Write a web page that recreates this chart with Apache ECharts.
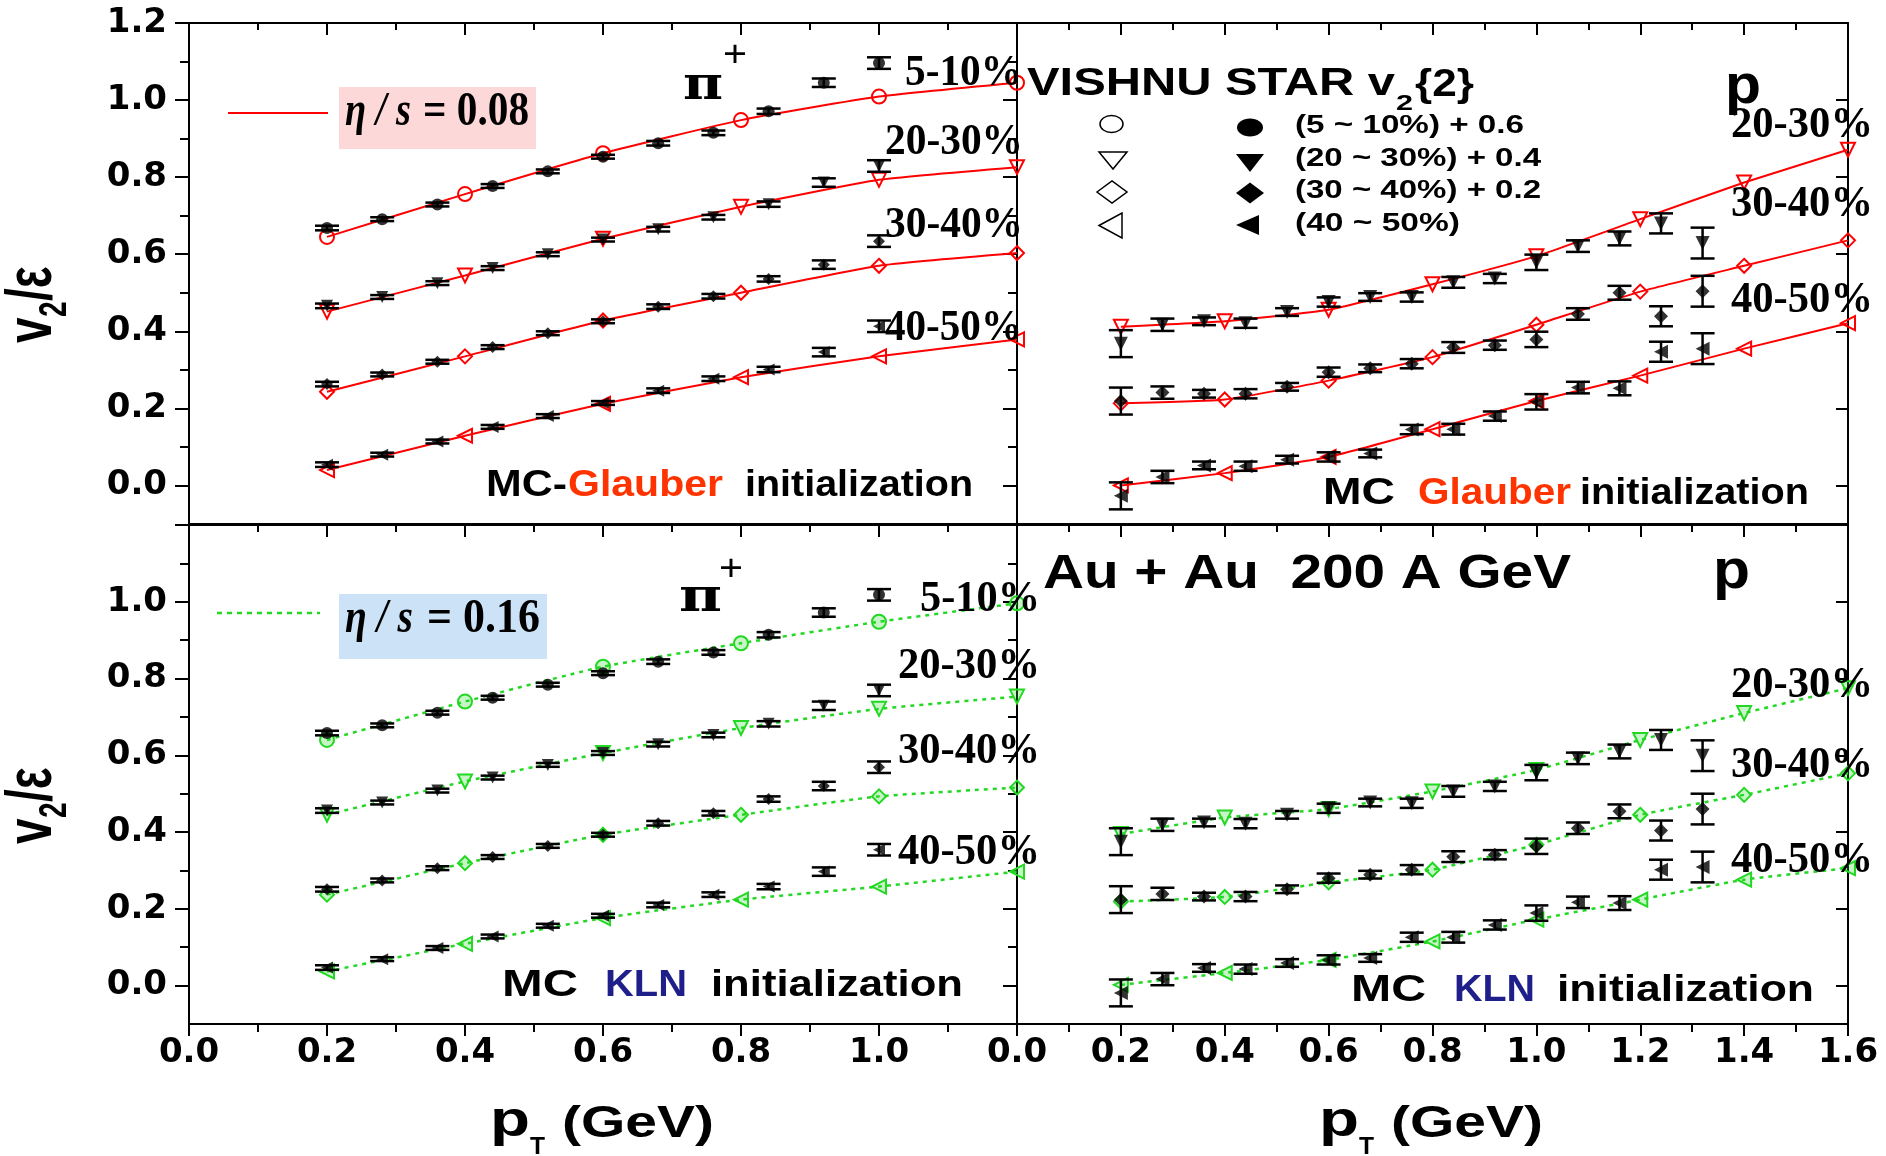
<!DOCTYPE html>
<html><head><meta charset="utf-8">
<script src="https://cdn.jsdelivr.net/npm/echarts@6/dist/echarts.min.js"></script>
<style>html,body{margin:0;padding:0;background:#fff}#c{width:1886px;height:1156px}</style>
</head><body><div id="c"></div><script>
// ---------------- DATA ----------------
const centralities = ['5-10%', '20-30%', '30-40%', '40-50%'];
const pionPt   = [0.2, 0.28, 0.36, 0.44, 0.52, 0.6, 0.68, 0.76, 0.84, 0.92, 1.0];
const protonPt = [0.2, 0.28, 0.36, 0.44, 0.52, 0.6, 0.68, 0.76, 0.84, 0.92, 1.0, 1.08, 1.16, 1.24, 1.32];
const hydroPtPion   = [0.2, 0.4, 0.6, 0.8, 1.0, 1.2];
const hydroPtProton = [0.2, 0.4, 0.6, 0.8, 1.0, 1.2, 1.4, 1.6];
const pionErr   = [0.006, 0.005, 0.005, 0.005, 0.005, 0.005, 0.006, 0.006, 0.007, 0.011, 0.015];
const protonErr = [0.035, 0.016, 0.010, 0.012, 0.010, 0.012, 0.010, 0.012, 0.014, 0.012, 0.020, 0.015, 0.018, 0.026, 0.040];

// MC-Glauber, pi+ (STAR data, offsets included)
const glbPion5_10  = [0.668, 0.691, 0.729, 0.777, 0.815, 0.853, 0.888, 0.915, 0.971, 1.045, 1.096];
const glbPion20_30 = [0.466, 0.489, 0.525, 0.564, 0.600, 0.638, 0.665, 0.696, 0.730, 0.786, 0.829];
const glbPion30_40 = [0.263, 0.288, 0.321, 0.359, 0.395, 0.426, 0.464, 0.491, 0.536, 0.573, 0.634];
const glbPion40_50 = [0.054, 0.080, 0.114, 0.152, 0.180, 0.214, 0.246, 0.277, 0.301, 0.346, 0.413];
// MC-Glauber, pi+ (VISHNU eta/s = 0.08)
const glbPionHydro5_10  = [0.645, 0.756, 0.862, 0.948, 1.009, 1.045];
const glbPionHydro20_30 = [0.451, 0.545, 0.640, 0.723, 0.793, 0.826];
const glbPionHydro30_40 = [0.243, 0.335, 0.428, 0.500, 0.570, 0.603];
const glbPionHydro40_50 = [0.040, 0.129, 0.212, 0.281, 0.335, 0.379];

// MC-Glauber, p (STAR data)
const glbProton20_30 = [0.368, 0.417, 0.426, 0.421, 0.450, 0.476, 0.489, 0.489, 0.527, 0.537, 0.579, 0.621, 0.641, 0.680, 0.629];
const glbProton30_40 = [0.219, 0.241, 0.238, 0.238, 0.256, 0.294, 0.304, 0.316, 0.358, 0.364, 0.379, 0.445, 0.500, 0.439, 0.504];
const glbProton40_50 = [-0.027, 0.022, 0.052, 0.050, 0.067, 0.074, 0.083, 0.145, 0.146, 0.180, 0.217, 0.254, 0.252, 0.347, 0.355];
// MC-Glauber, p (VISHNU)
const glbProtonHydro20_30 = [0.412, 0.426, 0.456, 0.522, 0.595, 0.691, 0.786, 0.871];
const glbProtonHydro30_40 = [0.213, 0.223, 0.272, 0.333, 0.417, 0.503, 0.570, 0.636];
const glbProtonHydro40_50 = [0.000, 0.032, 0.074, 0.146, 0.219, 0.285, 0.355, 0.421];

// MC-KLN, pi+ (STAR data)
const klnPion5_10  = [0.658, 0.678, 0.711, 0.750, 0.784, 0.814, 0.844, 0.868, 0.914, 0.972, 1.018];
const klnPion20_30 = [0.456, 0.477, 0.508, 0.542, 0.575, 0.606, 0.629, 0.653, 0.682, 0.729, 0.769];
const klnPion30_40 = [0.251, 0.274, 0.306, 0.335, 0.364, 0.393, 0.423, 0.449, 0.486, 0.520, 0.569];
const klnPion40_50 = [0.047, 0.069, 0.098, 0.128, 0.156, 0.182, 0.210, 0.237, 0.258, 0.297, 0.354];
// MC-KLN, pi+ (VISHNU eta/s = 0.16)
const klnPionHydro5_10  = [0.640, 0.740, 0.831, 0.892, 0.948, 0.996];
const klnPionHydro20_30 = [0.445, 0.532, 0.606, 0.671, 0.721, 0.753];
const klnPionHydro30_40 = [0.237, 0.319, 0.393, 0.445, 0.493, 0.516];
const klnPionHydro40_50 = [0.037, 0.109, 0.176, 0.224, 0.258, 0.297];

// MC-KLN, p (STAR data)
const klnProton20_30 = [0.375, 0.419, 0.425, 0.422, 0.445, 0.462, 0.477, 0.475, 0.506, 0.519, 0.555, 0.592, 0.610, 0.640, 0.599];
const klnProton30_40 = [0.224, 0.239, 0.232, 0.232, 0.251, 0.280, 0.289, 0.302, 0.336, 0.341, 0.363, 0.410, 0.454, 0.404, 0.460];
const klnProton40_50 = [-0.019, 0.017, 0.046, 0.043, 0.059, 0.067, 0.072, 0.126, 0.126, 0.158, 0.189, 0.217, 0.215, 0.302, 0.309];
// MC-KLN, p (VISHNU)
const klnProtonHydro20_30 = [0.395, 0.438, 0.460, 0.506, 0.562, 0.640, 0.710, 0.775];
const klnProtonHydro30_40 = [0.219, 0.231, 0.269, 0.302, 0.367, 0.445, 0.497, 0.553];
const klnProtonHydro40_50 = [0.002, 0.033, 0.067, 0.115, 0.172, 0.224, 0.276, 0.306];

// tick values / labels
const yMajorTicks = [0.0, 0.2, 0.4, 0.6, 0.8, 1.0, 1.2];
const yMinorTicks = [0.1, 0.3, 0.5, 0.7, 0.9, 1.1];
const yLabelsTop = [0.0, 0.2, 0.4, 0.6, 0.8, 1.0, 1.2];
const yLabelsBottom = [0.0, 0.2, 0.4, 0.6, 0.8, 1.0];
const xLabelsPion = [0.0, 0.2, 0.4, 0.6, 0.8, 1.0];
const xLabelsProton = [0.0, 0.2, 0.4, 0.6, 0.8, 1.0, 1.2, 1.4, 1.6];

// ---------------- LAYOUT / STYLE ----------------
const BLACK = '#000', RED = '#ff0000', GREEN = '#22d822';
const LW = 2;
const tickFont = { fontFamily: 'DejaVu Sans', fontWeight: 'bold', fontSize: 34, color: '#000' };
const grids = [
  { left: 189, top: 23, width: 828, height: 501 },
  { left: 1017, top: 23, width: 831, height: 501 },
  { left: 189, top: 525, width: 828, height: 499 },
  { left: 1017, top: 525, width: 831, height: 499 }
];
const gridMaxX = [1.2, 1.6, 1.2, 1.6];
const xLabelSets = [null, null, xLabelsPion, xLabelsProton];
const yLabelSets = [yLabelsTop, null, yLabelsBottom, null];

const xAxes = [], yAxes = [];
grids.forEach((g, gi) => {
  const lineStyle = { color: BLACK, width: LW };
  const xb = { gridIndex: gi, type: 'value', min: 0, max: gridMaxX[gi], interval: 0.2,
    splitLine: { show: false }, axisLine: { show: true, onZero: false, lineStyle } };
  xAxes.push(Object.assign({}, xb, { position: 'bottom',
    axisTick: { show: true, inside: false, length: 12, lineStyle },
    minorTick: { show: true, splitNumber: 2, length: 8, lineStyle },
    axisLabel: xLabelSets[gi] ? Object.assign({ show: true, customValues: xLabelSets[gi], formatter: v => v.toFixed(1), margin: 12 }, tickFont) : { show: false } }));
  xAxes.push(Object.assign({}, xb, { position: 'top',
    axisTick: { show: true, inside: true, length: 12, lineStyle },
    minorTick: { show: true, splitNumber: 2, length: 7, lineStyle },
    axisLabel: { show: false } }));
  const yb = { gridIndex: gi, type: 'value', min: -0.1, max: 1.2, interval: 0.1,
    splitLine: { show: false }, axisLine: { show: true, onZero: false, lineStyle } };
  yAxes.push(Object.assign({}, yb, { position: 'left',
    axisTick: { show: true, inside: false, length: 14, customValues: yMajorTicks, lineStyle },
    axisLabel: yLabelSets[gi] ? Object.assign({ show: true, customValues: yLabelSets[gi], formatter: v => v.toFixed(1), margin: 22 }, tickFont) : { show: false } }));
  yAxes.push(Object.assign({}, yb, { position: 'left', axisLine: { show: false },
    axisTick: { show: true, inside: false, length: 9, customValues: yMinorTicks, lineStyle }, axisLabel: { show: false } }));
  yAxes.push(Object.assign({}, yb, { position: 'right',
    axisTick: { show: true, inside: true, length: 12, customValues: yMajorTicks, lineStyle }, axisLabel: { show: false } }));
  yAxes.push(Object.assign({}, yb, { position: 'right', axisLine: { show: false },
    axisTick: { show: true, inside: true, length: 7, customValues: yMinorTicks, lineStyle }, axisLabel: { show: false } }));
});

const symbolSpecs = {
  '5-10%':  { symbol: 'circle', rotate: 0 },
  '20-30%': { symbol: 'triangle', rotate: 180 },
  '30-40%': { symbol: 'diamond', rotate: 0 },
  '40-50%': { symbol: 'triangle', rotate: 90 }
};

function errorSeries(gi, xs, ys, errs, capW) {
  return {
    type: 'custom', xAxisIndex: 2 * gi, yAxisIndex: 4 * gi, z: 3, silent: true, clip: false,
    data: xs.map((x, i) => [x, ys[i] - errs[i], ys[i] + errs[i]]),
    encode: { x: 0, y: [1, 2] },
    renderItem: (params, api) => {
      const x = api.value(0);
      const lo = api.coord([x, api.value(1)]);
      const hi = api.coord([x, api.value(2)]);
      const h = capW / 2;
      const style = { stroke: '#000', lineWidth: 2.5 };
      return { type: 'group', children: [
        { type: 'line', shape: { x1: lo[0], y1: lo[1], x2: hi[0], y2: hi[1] }, style },
        { type: 'line', shape: { x1: lo[0] - h, y1: lo[1], x2: lo[0] + h, y2: lo[1] }, style },
        { type: 'line', shape: { x1: hi[0] - h, y1: hi[1], x2: hi[0] + h, y2: hi[1] }, style }
      ] };
    }
  };
}

function panel(gi, pts, dataSets, errs, hpts, hydroSets, cents, theory, dataSize) {
  const out = [];
  cents.forEach((c, k) => {
    const sp = symbolSpecs[c];
    out.push({
      type: 'line', name: 'VISHNU ' + c, xAxisIndex: 2 * gi, yAxisIndex: 4 * gi, z: 2, clip: false, silent: true,
      data: hpts.map((x, i) => [x, hydroSets[k][i]]),
      smooth: 0.15,
      symbol: sp.symbol, symbolRotate: sp.rotate, symbolSize: 14, showSymbol: true,
      lineStyle: { color: theory.color, width: theory.width, type: theory.type },
      itemStyle: { color: theory.fill, borderColor: theory.color, borderWidth: 2 }
    });
    out.push(errorSeries(gi, pts, dataSets[k], errs, 24));
    out.push({
      type: 'scatter', name: 'STAR ' + c, xAxisIndex: 2 * gi, yAxisIndex: 4 * gi, z: 4, silent: true,
      data: pts.map((x, i) => [x, dataSets[k][i]]),
      symbol: sp.symbol, symbolRotate: sp.rotate, symbolSize: dataSize,
      itemStyle: { color: '#000' }
    });
  });
  return out;
}

const redTheory = { color: RED, width: 2, type: 'solid', fill: 'rgba(255,255,255,0)' };
const greenTheory = { color: GREEN, width: 2.5, type: [4, 5], fill: 'rgba(34,216,34,0.25)' };

const series = [].concat(
  panel(0, pionPt, [glbPion5_10, glbPion20_30, glbPion30_40, glbPion40_50], pionErr, hydroPtPion,
    [glbPionHydro5_10, glbPionHydro20_30, glbPionHydro30_40, glbPionHydro40_50], centralities, redTheory, 12),
  panel(1, protonPt, [glbProton20_30, glbProton30_40, glbProton40_50], protonErr, hydroPtProton,
    [glbProtonHydro20_30, glbProtonHydro30_40, glbProtonHydro40_50], centralities.slice(1), redTheory, 14),
  panel(2, pionPt, [klnPion5_10, klnPion20_30, klnPion30_40, klnPion40_50], pionErr, hydroPtPion,
    [klnPionHydro5_10, klnPionHydro20_30, klnPionHydro30_40, klnPionHydro40_50], centralities, greenTheory, 12),
  panel(3, protonPt, [klnProton20_30, klnProton30_40, klnProton40_50], protonErr, hydroPtProton,
    [klnProtonHydro20_30, klnProtonHydro30_40, klnProtonHydro40_50], centralities.slice(1), greenTheory, 14)
);

// ---------------- TEXT (annotations) ----------------
const mctx = document.createElement('canvas').getContext('2d');
function T(text, x, y, o) {
  o = o || {};
  const size = o.size || 36, weight = o.weight || 'bold', fam = o.family || 'Liberation Sans', fs = o.fstyle || 'normal';
  const font = fs + ' ' + weight + ' ' + size + 'px "' + fam + '"';
  mctx.font = font;
  const sx = o.w ? o.w / mctx.measureText(text).width : 1;
  return { type: 'text', x: x, y: y, scaleX: sx, z: 100, silent: true,
    style: { text: text, fill: o.color || '#000', font: font, textAlign: 'left', textVerticalAlign: 'middle', align: 'left', verticalAlign: 'middle' } };
}
const SERIF = 'Liberation Serif';
function pct(text, x, y, w) { return T(text, x, y, { family: SERIF, size: 44, w: w }); }

function yTitle(x, y) {
  return { type: 'group', x: x, y: y, rotation: Math.PI / 2, scaleY: 1.4, z: 100, children: [
    T('v', 0, 0, { size: 46 }),
    T('2', 26, 16, { size: 28 }),
    T('/ε', 42, 0, { size: 46 })
  ] };
}
function xTitle(x0) {
  return [
    T('p', x0, 1122, { size: 50, w: 40 }),
    T('T', x0 + 40, 1147, { size: 24, w: 15 }),
    T('(GeV)', x0 + 72, 1125, { size: 44, w: 152 })
  ];
}

const graphics = [
  // top-left legend
  { type: 'rect', shape: { x: 339, y: 87, width: 197, height: 62 }, style: { fill: '#fdd8d8' }, z: 90, silent: true },
  { type: 'line', shape: { x1: 228, y1: 113, x2: 328, y2: 113 }, style: { stroke: RED, lineWidth: 2 }, z: 90, silent: true },
  T('η / s', 345, 113, { family: SERIF, size: 48, fstyle: 'italic', w: 66 }),
  T('= 0.08', 423, 113, { family: SERIF, size: 48, w: 106 }),
  // bottom-left legend
  { type: 'rect', shape: { x: 339, y: 594, width: 208, height: 65 }, style: { fill: '#cce3f7' }, z: 90, silent: true },
  { type: 'line', shape: { x1: 217, y1: 613, x2: 320, y2: 613 }, style: { stroke: GREEN, lineWidth: 2.5, lineDash: [5, 5] }, z: 90, silent: true },
  T('η / s', 345, 620, { family: SERIF, size: 48, fstyle: 'italic', w: 68 }),
  T('= 0.16', 427, 620, { family: SERIF, size: 48, w: 113 }),
  // pi+ labels
  T('π', 683, 87, { family: 'DejaVu Serif', size: 46, w: 40 }),
  T('+', 723, 56, { size: 36, weight: 'normal', w: 24 }),
  T('π', 679, 599, { family: 'DejaVu Serif', size: 46, w: 43 }),
  T('+', 719, 570, { size: 36, weight: 'normal', w: 24 }),
  // p labels
  T('p', 1725, 88, { size: 56, w: 36 }),
  T('p', 1713, 573, { size: 56, w: 37 }),
  // centrality labels
  pct('5-10%', 905, 74, 117), pct('20-30%', 885, 143, 138), pct('30-40%', 885, 226, 138), pct('40-50%', 885, 329, 137),
  pct('5-10%', 920, 600, 120), pct('20-30%', 898, 667, 142), pct('30-40%', 898, 752, 142), pct('40-50%', 898, 853, 142),
  pct('20-30%', 1731, 126, 142), pct('30-40%', 1731, 205, 142), pct('40-50%', 1731, 301, 142),
  pct('20-30%', 1731, 686, 142), pct('30-40%', 1731, 766, 142), pct('40-50%', 1731, 861, 142),
  // initialization labels
  T('MC-', 486, 486, { size: 37, w: 81 }),
  T('Glauber', 568, 486, { size: 37, w: 155, color: '#ff3300' }),
  T('initialization', 745, 486, { size: 37, w: 228 }),
  T('MC', 1323, 494, { size: 37, w: 72 }),
  T('Glauber', 1418, 494, { size: 37, w: 153, color: '#ff3300' }),
  T('initialization', 1580, 494, { size: 37, w: 229 }),
  T('MC', 502, 986, { size: 37, w: 76 }),
  T('KLN', 605, 986, { size: 37, w: 82, color: '#1f1f8c' }),
  T('initialization', 711, 986, { size: 37, w: 252 }),
  T('MC', 1351, 991, { size: 37, w: 75 }),
  T('KLN', 1454, 991, { size: 37, w: 81, color: '#1f1f8c' }),
  T('initialization', 1557, 991, { size: 37, w: 257 }),
  // titles
  T('VISHNU STAR v', 1027, 85, { size: 38, w: 368 }),
  T('2', 1396, 104, { size: 22, w: 17 }),
  T('{2}', 1415, 86, { size: 38, w: 59 }),
  T('Au + Au  200 A GeV', 1043, 575, { size: 48, w: 528 }),
  // legend rows
  T('(5 ~ 10%) + 0.6', 1295, 126, { size: 25, w: 229 }),
  T('(20 ~ 30%) + 0.4', 1295, 159, { size: 25, w: 246 }),
  T('(30 ~ 40%) + 0.2', 1295, 191, { size: 25, w: 246 }),
  T('(40 ~ 50%)', 1295, 224, { size: 25, w: 165 }),
  { type: 'ellipse', shape: { cx: 1111.5, cy: 124, rx: 11.5, ry: 8.5 }, style: { fill: 'none', stroke: '#000', lineWidth: 1.5 }, z: 100, silent: true },
  { type: 'ellipse', shape: { cx: 1250, cy: 127.5, rx: 13, ry: 9 }, style: { fill: '#000' }, z: 100, silent: true },
  { type: 'polygon', shape: { points: [[1099, 152], [1127, 152], [1113, 169]] }, style: { fill: 'none', stroke: '#000', lineWidth: 1.5 }, z: 100, silent: true },
  { type: 'polygon', shape: { points: [[1236, 154], [1264, 154], [1250, 172]] }, style: { fill: '#000' }, z: 100, silent: true },
  { type: 'polygon', shape: { points: [[1097, 192], [1112, 181], [1127, 192], [1112, 203]] }, style: { fill: 'none', stroke: '#000', lineWidth: 1.5 }, z: 100, silent: true },
  { type: 'polygon', shape: { points: [[1236, 193], [1250, 182.5], [1264, 193], [1250, 203.5]] }, style: { fill: '#000' }, z: 100, silent: true },
  { type: 'polygon', shape: { points: [[1099, 225.5], [1122, 213], [1122, 238]] }, style: { fill: 'none', stroke: '#000', lineWidth: 1.5 }, z: 100, silent: true },
  { type: 'polygon', shape: { points: [[1236, 225], [1259, 215], [1259, 235]] }, style: { fill: '#000' }, z: 100, silent: true },
  // axis titles
  yTitle(33, 343),
  yTitle(33, 844)
].concat(xTitle(490), xTitle(1319));

const chart = echarts.init(document.getElementById('c'), null, { renderer: 'canvas' });
chart.setOption({
  animation: false,
  backgroundColor: '#fff',
  textStyle: { fontFamily: 'Liberation Sans' },
  grid: grids.map(g => Object.assign({ containLabel: false, outerBoundsMode: 'none' }, g)),
  xAxis: xAxes,
  yAxis: yAxes,
  series: series,
  graphic: graphics
});
</script></body></html>
